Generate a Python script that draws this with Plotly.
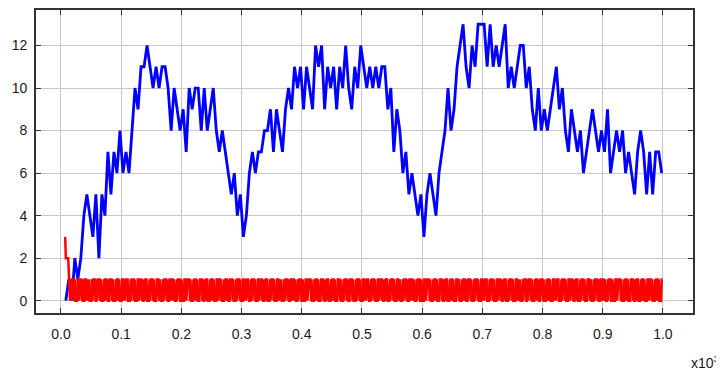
import numpy as np
import plotly.graph_objects as go

# ---- data ----
blue_x0, blue_dx = 8, 5
blue_vals = [
    0, 1, 0, 2, 1, 2, 4, 5, 4, 3, 5, 2, 5, 4, 7, 5, 7, 6, 8, 6,
    7, 6, 8, 10, 9, 11, 11, 12, 11, 10, 11, 10, 11,
    11, 10, 8, 10, 9, 8, 9, 7, 10, 9, 10, 10, 8, 10, 8, 9, 10, 8,
    7, 8, 7, 6, 5, 6, 4, 5, 3, 4, 6, 7, 6, 7, 7, 8,
    8, 9, 7, 9, 8, 7, 9, 10, 9, 11, 10, 11, 9, 11, 10, 9, 12, 11,
    12, 9, 11, 10, 11, 9, 11, 10, 12, 10, 9, 11, 10, 12, 11,
    10, 11, 10, 11, 10, 11, 11, 9, 10, 7, 9, 8, 6, 7, 5, 6, 5, 4,
    5, 3, 5, 6, 5, 4, 6, 7, 8, 10, 8, 9, 11, 12, 13,
    11, 10, 12, 11, 13, 13, 13, 11, 13, 11, 12, 11, 12, 13, 10, 11, 10,
    11, 12, 12, 10, 11, 9, 8, 10, 8, 9, 8, 9, 10, 11, 9, 10, 8, 7,
    9, 8, 7, 8, 6, 7, 8, 9, 8, 7, 8, 7, 9, 6, 7, 8, 7, 8, 6, 7,
    6, 5, 7, 8, 7, 5, 7, 5, 7, 7, 6,
]

red_head_x = [7, 8, 12]
red_head_vals = [3, 2, 2]
red_bits = (
    "00101111010000110111101000111010110000101111001011"
    "11010000101110100011110100001011101000011101011110"
    "00010111101000011011110100101110000101111010000111"
    "10110000101111010001101110100001011110010000111011"
    "11101000010111010000111101001011100001011101000011"
    "01111010000101110100011110100001011110100001110101"
    "11000010111101000011011110100101110000101111010000"
    "11101011000010111101000110111010000101111001000011"
    "10111110100001011101000011110100101110000101110100"
    "00111101000010111101000111101000010111101000011101"
    "01110000101111010000110111101001011100001011110100"
    "00111011000010111101000110111010000101111001000011"
    "10111110100001011101000011110100101110000101110100"
    "00111101000010111010001111010000101111010000111010"
    "11110000101111010000110111101001011100001011110100"
    "00111010110000101111001011110100001011101000111101"
    "00001011101000011101011110000101111010000110111101"
    "00101110000101111010000111101100001011110100011011"
    "10100001011110010000111011111010000101110100001111"
    "01001011100001011101000011011110100001011101000011"
)
red_bits_x_start, red_bits_x_end = 14, 999

x_tick_vals = [0, 100, 200, 300, 400, 500, 600, 700, 800, 900, 1000]
x_tick_text = ["0.0", "0.1", "0.2", "0.3", "0.4", "0.5", "0.6", "0.7", "0.8", "0.9", "1.0"]
y_tick_vals = [0, 2, 4, 6, 8, 10, 12]

# ---- build ----
blue_x = blue_x0 + blue_dx * np.arange(len(blue_vals))
bits = [int(c) for c in red_bits]
red_x = np.concatenate([red_head_x, np.linspace(red_bits_x_start, red_bits_x_end, len(bits))])
red_y = red_head_vals + bits

fig = go.Figure()
fig.add_trace(go.Scatter(x=blue_x, y=blue_vals, mode="lines",
                         line=dict(color="#0000ff", width=2.8), showlegend=False))
fig.add_trace(go.Scatter(x=red_x, y=red_y, mode="lines",
                         line=dict(color="#ff0000", width=2.5), showlegend=False))

font = dict(family="Liberation Sans, Arial, sans-serif", size=14, color="#1a1a1a")
axis_common = dict(showgrid=True, gridcolor="#c8c8c8", gridwidth=1.2,
                   showline=True, linecolor="#333333", linewidth=1.6, mirror="allticks",
                   ticks="inside", ticklen=5, tickcolor="#333333", tickwidth=1.2,
                   zeroline=False, tickfont=font, automargin=False)

fig.update_xaxes(range=[-41.5, 1050], tickvals=x_tick_vals, ticktext=x_tick_text,
                 ticklabelstandoff=7, **axis_common)
fig.update_yaxes(range=[-0.58, 13.67], tickvals=y_tick_vals,
                 ticklabelstandoff=4, **axis_common)

fig.add_annotation(x=0.994, y=-0.163, xref="paper", yref="paper",
                   text="x10<sup>3</sup>", showarrow=False, xanchor="left", yanchor="middle",
                   font=font)

# page body adds an 8px offset, so the figure is 716x365 with margins shifted by 8px
fig.update_layout(width=716, height=365, margin=dict(l=27.5, r=30.5, t=1.5, b=60),
                  paper_bgcolor="white", plot_bgcolor="white", font=font)

fig.write_html("out.html")
